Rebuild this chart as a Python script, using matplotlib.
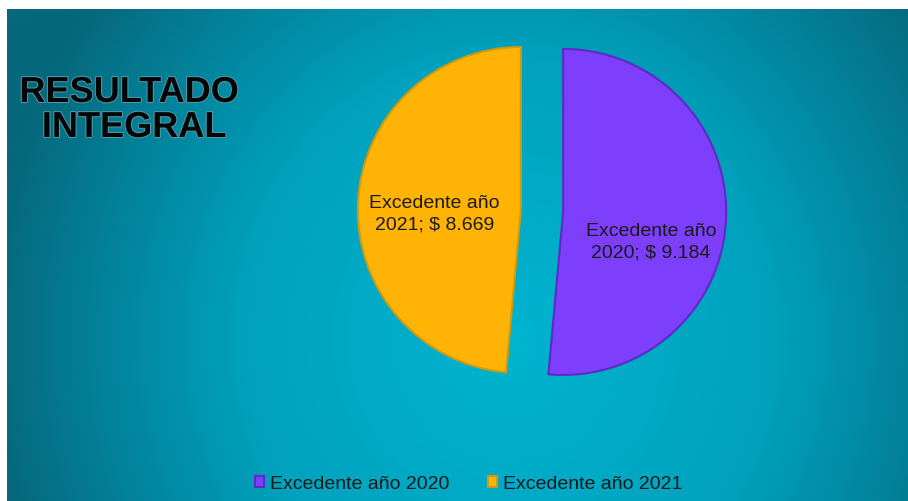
import numpy as np
import matplotlib.pyplot as plt
import matplotlib.patheffects as pe
from matplotlib.colors import LinearSegmentedColormap

plt.rcParams['font.family'] = ['Liberation Sans', 'DejaVu Sans']

# datos del gráfico
categorias = ["Excedente año 2020", "Excedente año 2021"]
valores = [9.184, 8.669]
etiquetas = ["Excedente año\n2020; $ 9.184", "Excedente año\n2021; $ 8.669"]
colores = ["#7d3ffc", "#ffb405"]
bordes = ["#5b2bc4", "#d09a10"]

W, H = 908, 501
fig = plt.figure(figsize=(W / 100, H / 100), dpi=100)
fig.patch.set_facecolor("white")

# fondo con degradado radial
bg = fig.add_axes([7 / W, 0, 1 - 7 / W, 1 - 9 / H])
bg.axis("off")
xx, yy = np.meshgrid(np.linspace(0, 901, 450), np.linspace(0, 492, 250))
d = np.sqrt(((xx - 500) / 520) ** 2 + ((yy - 330) / 560) ** 2)
cmap_bg = LinearSegmentedColormap.from_list(
    "bg", [(0, "#00b4d0"), (0.5, "#00a2be"), (0.8, "#038098"), (1.0, "#06687c")])
bg.imshow(np.clip(d, 0, 1), cmap=cmap_bg, aspect="auto", origin="upper",
          extent=[0, 901, 492, 0], interpolation="bicubic")

# titulo
for txt, xc, yb in [("RESULTADO", 129, 102), ("INTEGRAL", 134, 137)]:
    fig.text(xc / W, 1 - yb / H, txt, ha="center", va="baseline", fontsize=26,
             fontweight="bold", color="#050505",
             path_effects=[pe.withStroke(linewidth=1.5, foreground="#4a9aa8")])

# torta
cx, cy, r = 542, 211, 163
half = 1.3 * r
ax = fig.add_axes([(cx - half) / W, (H - cy - half) / H, 2 * half / W, 2 * half / H])
ax.axis("off")
wedges, texts = ax.pie(valores, labels=etiquetas, colors=colores, startangle=90,
                       counterclock=False, explode=[0.13, 0.13], labeldistance=0.55,
                       wedgeprops=dict(linewidth=1.5), textprops=dict(fontsize=14, color="#1a1a1a"))
ax.set_xlim(-1.3, 1.3)
ax.set_ylim(-1.3, 1.3)
for w, b in zip(wedges, bordes):
    w.set_edgecolor(b)
for t in texts:
    t.set_horizontalalignment("center")
    t.set_multialignment("center")
    t.set_verticalalignment("center")
    t.set_linespacing(1.3)
x, y = texts[0].get_position()
texts[0].set_position((x - 0.01, y - 0.16))
x, y = texts[1].get_position()
texts[1].set_position((x + 0.02, y - 0.05))

# leyenda
fig.legend(wedges, categorias, loc="lower center", bbox_to_anchor=(0.516, -0.018), ncol=2,
           frameon=False, fontsize=14, handlelength=0.45, handleheight=0.45,
           handletextpad=0.3, columnspacing=2.0, labelcolor="#1a1a1a")

fig.savefig("out.png", dpi=100)
